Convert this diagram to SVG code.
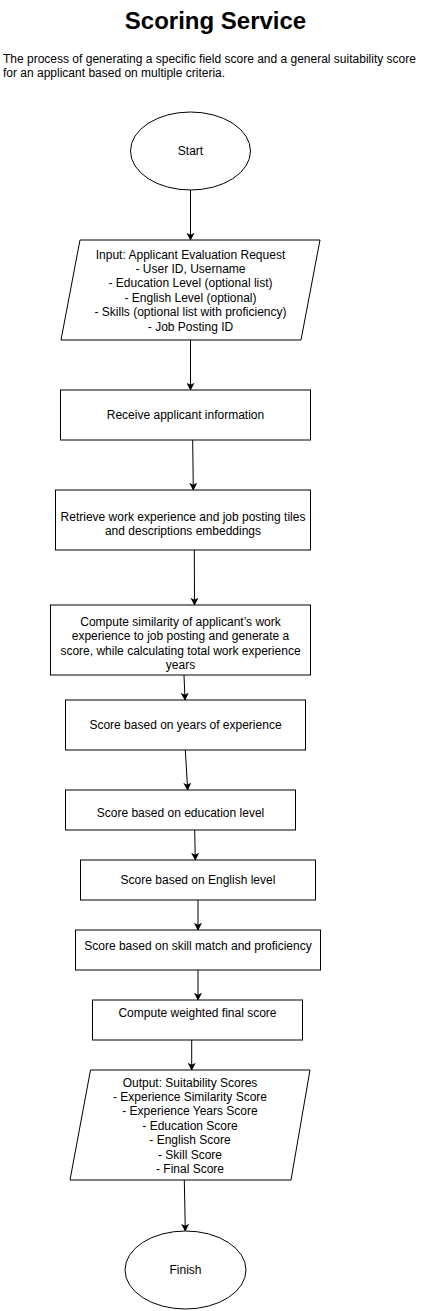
<svg xmlns="http://www.w3.org/2000/svg" width="430" height="1311" viewBox="0 0 430 1311">
<style>
.shape{fill:#fff;stroke:#000;stroke-width:1}
.t{font-family:"Liberation Sans",Arial,sans-serif;font-size:12px;fill:#000;text-anchor:middle}
.title{font-family:"Liberation Sans",Arial,sans-serif;font-size:24px;font-weight:bold;fill:#000;text-anchor:middle}
.desc{font-family:"Liberation Sans",Arial,sans-serif;font-size:12px;fill:#000}
.edge{fill:none;stroke:#000;stroke-width:1;marker-end:url(#arr)}
</style>
<defs>
<marker id="arr" viewBox="0 0 10 10" refX="9" refY="5" markerWidth="8" markerHeight="8" markerUnits="userSpaceOnUse" orient="auto">
<path d="M0,0 L10,5 L0,10 L2.5,5 Z" fill="#000"/>
</marker>
</defs>
<rect width="430" height="1311" fill="#fff"/>
<g id="title">
<text class="title" x="215.5" y="29">Scoring Service</text>
</g>
<g id="description">
<text class="desc" x="3" y="63">The process of generating a specific field score and a general suitability score</text>
<text class="desc" x="3" y="77">for an applicant based on multiple criteria.</text>
</g>
<g id="connectors">
<path class="edge" d="M190.5,190 L190.5,240"/>
<path class="edge" d="M190.5,340 L190.5,390"/>
<path class="edge" d="M192.7,440 L193.3,490"/>
<path class="edge" d="M194.3,550 L194.5,605"/>
<path class="edge" d="M184,675 L185,700"/>
<path class="edge" d="M185.3,750 L187.7,790"/>
<path class="edge" d="M194.7,830 L195.3,860"/>
<path class="edge" d="M198,900 L198,930"/>
<path class="edge" d="M198,970 L198,1000"/>
<path class="edge" d="M191.7,1040 L191.7,1070"/>
<path class="edge" d="M184.3,1180 L185.3,1231"/>
</g>
<g id="start">
<ellipse class="shape" cx="190.5" cy="151" rx="60" ry="39"/>
<text class="t" x="190.5" y="155">Start</text>
</g>
<g id="input">
<polygon class="shape" points="80,240 320,240 301,340 61,340"/>
<text class="t" x="190.5" y="258.5">Input: Applicant Evaluation Request</text>
<text class="t" x="190.5" y="273">- User ID, Username</text>
<text class="t" x="190.5" y="287.4">- Education Level (optional list)</text>
<text class="t" x="190.5" y="301.8">- English Level (optional)</text>
<text class="t" x="190.5" y="316.2">- Skills (optional list with proficiency)</text>
<text class="t" x="190.5" y="330.6">- Job Posting ID</text>
</g>
<g id="receive">
<rect class="shape" x="60.5" y="390" width="250" height="50"/>
<text class="t" x="185.5" y="419">Receive applicant information</text>
</g>
<g id="retrieve">
<rect class="shape" x="55.5" y="490" width="255" height="60"/>
<text class="t" x="183" y="520.5">Retrieve work experience and job posting tiles</text>
<text class="t" x="183" y="535">and descriptions embeddings</text>
</g>
<g id="similarity">
<rect class="shape" x="50.5" y="605" width="260" height="70"/>
<text class="t" x="180.5" y="626">Compute similarity of applicant’s work</text>
<text class="t" x="180.5" y="640.4">experience to job posting and generate a</text>
<text class="t" x="180.5" y="654.8">score, while calculating total work experience</text>
<text class="t" x="180.5" y="669.2">years</text>
</g>
<g id="years">
<rect class="shape" x="65.5" y="700" width="240" height="50"/>
<text class="t" x="185.5" y="729">Score based on years of experience</text>
</g>
<g id="education">
<rect class="shape" x="65.5" y="790" width="230" height="40"/>
<text class="t" x="180.5" y="817">Score based on education level</text>
</g>
<g id="english">
<rect class="shape" x="80.5" y="860" width="235" height="40"/>
<text class="t" x="198" y="884">Score based on English level</text>
</g>
<g id="skill">
<rect class="shape" x="75.5" y="930" width="245" height="40"/>
<text class="t" x="198" y="950">Score based on skill match and proficiency</text>
</g>
<g id="final">
<rect class="shape" x="92.5" y="1000" width="210" height="40"/>
<text class="t" x="197.5" y="1017">Compute weighted final score</text>
</g>
<g id="output">
<polygon class="shape" points="90.5,1070 310,1070 291,1180 70,1180"/>
<text class="t" x="190" y="1086.5">Output: Suitability Scores</text>
<text class="t" x="190" y="1100.9">- Experience Similarity Score</text>
<text class="t" x="190" y="1115.3">- Experience Years Score</text>
<text class="t" x="190" y="1129.7">- Education Score</text>
<text class="t" x="190" y="1144.1">- English Score</text>
<text class="t" x="190" y="1158.5">- Skill Score</text>
<text class="t" x="190" y="1172.9">- Final Score</text>
</g>
<g id="finish">
<ellipse class="shape" cx="185.5" cy="1270" rx="60.5" ry="39"/>
<text class="t" x="185.5" y="1274">Finish</text>
</g>
</svg>
